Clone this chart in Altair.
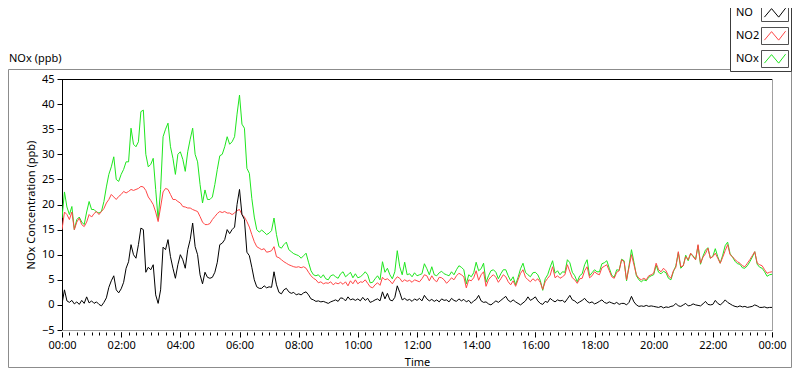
import altair as alt
import pandas as pd

# ---------------- data (5-minute readings, 00:00 .. 24:00) ----------------
series_names = ["NO", "NO2", "NOx"]
series_colors = ["#000000", "#ff4646", "#1ee61e"]
step_hours = 5 / 60

no_vals = [
    0.2, 3.0, 0.8, 0.5, 0.9, 0.2, 0.6, 0.1, 0.9, 0.3, 1.6, 0.4,
    0.8, 0.3, 0.6, 0.1, -0.2, 0.5, 1.4, 3.5, 4.8, 5.8, 3.0, 2.4,
    3.2, 4.5, 7.3, 8.6, 12.0, 10.0, 9.3, 12.0, 15.3, 15.0, 6.5, 7.5,
    7.0, 8.0, 2.0, 0.3, 3.0, 11.5, 11.0, 13.0, 9.6, 7.3, 5.3, 8.0,
    10.0, 9.0, 7.3, 11.0, 13.0, 16.3, 11.6, 10.0, 6.0, 4.2, 6.5, 5.5,
    5.3, 5.5, 6.5, 8.5, 12.0, 12.3, 13.0, 15.0, 14.2, 15.0, 15.5, 20.0,
    23.0, 18.0, 17.0, 10.5, 9.8, 7.5, 5.0, 3.6, 3.3, 3.3, 3.8, 3.4,
    3.6, 3.5, 6.6, 4.0, 2.5, 2.2, 3.0, 3.3, 2.6, 2.3, 2.5, 2.0,
    2.2, 2.0, 2.4, 2.6, 2.0, 1.2, 1.0, 0.7, 0.8, 0.6, 0.7, 0.5,
    0.3, 0.6, 0.8, 1.0, 0.7, 1.4, 1.3, 0.8, 1.6, 1.0, 1.2, 0.9,
    1.2, 0.8, 1.5, 0.9, 1.3, 0.5, 0.7, 1.0, 1.2, 0.8, 2.6, 1.2,
    2.3, 1.0, 0.8, 1.5, 3.8, 2.5, 1.0, 1.3, 0.9, 1.1, 0.7, 1.2,
    0.9, 1.3, 0.8, 1.9, 1.2, 0.8, 1.1, 0.7, 1.0, 0.6, 1.2, 0.9,
    1.0, 0.6, 1.3, 0.9, 0.7, 1.2, 0.8, 1.1, 0.6, 0.9, 0.3, 0.8,
    1.1, 1.9, 0.8, 0.5, 0.6, 0.2, 0.0, 0.4, 0.8, 0.5, 0.9, 1.3,
    1.7, 0.9, 0.6, 1.0, 0.6, 0.3, 0.0, 0.4, 0.8, 1.6, 0.9, 1.2,
    1.6, 0.8, 0.3, 0.1, 0.7, 0.5, 1.3, 0.9, 0.6, 1.0, 0.8, 0.9,
    0.5, 1.2, 1.9, 1.0, 0.8, 0.3, 0.6, 0.9, 1.3, 0.7, 0.4, 0.6,
    0.2, 0.4, 0.7, 1.0, 0.5, 0.3, 0.6, 0.4, 0.2, 0.5, 0.1, 0.3,
    0.3, 0.0, 0.5, 1.7, 0.6, 0.0, -0.3, -0.2, -0.3, -0.1, -0.3, -0.2,
    -0.3, -0.4, -0.5, -0.3, -0.6, -0.4, -0.5, -0.3, -0.2, 0.3, -0.2, -0.3,
    0.0, 0.3, -0.2, -0.1, 0.2, 0.0, -0.1, -0.2, 0.2, 0.7, 0.1, 0.0,
    0.1, 0.9, 0.3, 0.0, 0.4, 1.0, 0.5, 0.2, -0.1, -0.3, -0.4, -0.2,
    -0.4, -0.3, -0.5, -0.4, -0.3, 0.0, -0.2, -0.5, -0.5, -0.4, -0.6, -0.5,
    -0.5,
]

no2_vals = [
    15.0, 18.5, 18.0, 17.0, 18.5, 15.0, 16.5, 17.3, 16.0, 15.6, 16.5, 18.0,
    17.5, 18.2, 18.6, 18.0, 18.6, 19.2, 20.3, 21.0, 22.0, 21.5, 21.0, 21.6,
    22.0, 22.6, 22.3, 22.6, 23.0, 22.8, 23.0, 23.2, 23.6, 23.5, 22.8, 21.5,
    20.8, 20.0, 18.5, 16.6, 19.5, 22.5, 23.2, 23.0, 22.0, 21.0, 21.0, 20.6,
    20.3, 19.6, 19.5, 19.3, 19.3, 19.0, 18.8, 18.6, 17.6, 16.5, 16.0, 16.0,
    16.2, 17.0, 17.6, 18.2, 18.6, 18.4, 18.6, 18.3, 18.3, 18.0, 18.3, 18.8,
    19.0, 18.0, 17.5, 16.6, 15.5, 14.0, 12.6, 11.6, 11.3, 11.0, 11.2, 10.5,
    10.6, 10.8, 11.6, 9.6, 9.4, 9.0, 8.6, 8.3, 8.0, 7.8, 7.6, 7.5,
    7.6, 7.4, 7.6, 7.3, 6.5, 5.8, 5.3, 5.0, 4.4, 4.6, 4.2, 4.4,
    4.3, 4.6, 4.0, 4.4, 4.2, 4.5, 4.1, 4.6, 3.8, 4.8, 4.2, 5.0,
    4.2, 4.6, 4.5, 5.0, 4.3, 3.6, 3.4, 4.0, 4.4, 3.9, 5.5, 5.0,
    5.2, 4.8, 4.2, 5.0, 5.6, 5.3, 4.6, 5.0, 4.7, 4.9, 4.5, 5.0,
    4.8, 4.6, 5.2, 6.0, 5.8, 4.8, 5.8, 5.0, 4.6, 5.5, 5.4, 5.0,
    4.3, 4.8, 5.4, 5.0, 5.8, 6.3, 6.0, 5.6, 3.4, 5.0, 4.8, 5.4,
    6.8, 4.9, 6.0, 6.6, 3.7, 5.0, 5.6, 6.0, 5.5, 4.5, 5.2, 6.0,
    5.6, 4.6, 4.0, 4.8, 3.7, 5.0, 6.3, 7.0, 5.5, 5.0, 4.6, 5.2,
    4.8, 5.2, 4.5, 3.1, 4.6, 5.3, 5.9, 7.6, 5.4, 5.8, 5.3, 5.6,
    6.0, 8.0, 6.6, 5.4, 5.0, 4.3, 5.2, 5.3, 6.8, 7.6, 5.4, 5.8,
    6.6, 6.2, 6.0, 7.4, 7.7, 8.0, 6.8, 5.6, 5.3, 6.5, 6.8, 9.0,
    8.6, 5.0, 7.5, 10.0, 8.0, 6.0, 5.3, 5.0, 5.3, 5.0, 5.8, 6.0,
    6.3, 8.3, 7.0, 6.6, 7.3, 6.8, 5.8, 5.3, 6.8, 7.5, 10.6, 7.6,
    7.8, 9.6, 9.0, 10.3, 9.6, 9.0, 12.0, 8.3, 9.5, 10.2, 11.3, 9.3,
    9.6, 10.3, 9.3, 8.3, 9.5, 10.8, 12.0, 10.0, 9.6, 9.0, 8.6, 8.3,
    7.8, 7.6, 8.3, 9.0, 9.8, 10.6, 8.3, 8.0, 7.8, 7.0, 6.3, 6.5,
    6.6,
]

nox_vals = [
    17.3, 22.5, 19.5, 18.0, 19.6, 15.0, 17.0, 17.5, 16.5, 16.0, 18.5, 20.6,
    19.0, 19.0, 18.5, 18.3, 18.6, 20.6, 23.5, 26.0, 27.5, 29.5, 25.0, 24.6,
    26.0, 27.0, 28.5, 28.5, 35.2, 32.0, 31.5, 32.5, 38.5, 38.8, 30.0, 27.5,
    28.0, 29.2, 23.0, 17.0, 23.0, 33.5, 35.0, 36.2, 31.5, 29.2, 26.0, 30.0,
    30.5, 29.0, 26.6, 30.5, 33.0, 35.2, 30.0, 28.5, 24.0, 20.3, 22.9, 21.0,
    21.0, 21.5, 24.0, 27.0, 29.7, 30.0, 31.5, 33.5, 32.0, 32.5, 33.5, 38.0,
    41.8, 36.0, 35.2, 27.2, 26.2, 21.2, 17.5, 15.0, 14.5, 14.9, 14.5, 14.0,
    14.3, 14.8, 17.3, 14.0, 11.6, 11.3, 12.0, 12.5, 11.0, 10.6, 10.2, 10.0,
    9.8, 9.3, 9.8, 10.3, 8.5, 6.8, 6.0, 5.8, 6.0, 5.4, 6.0, 5.2,
    5.0, 5.8, 6.0, 5.6, 5.3, 6.2, 6.6, 5.6, 6.0, 6.5, 5.4, 6.2,
    5.4, 5.6, 6.0, 6.6, 6.0, 4.4, 4.5, 5.2, 5.8, 5.0, 8.6, 6.5,
    7.3, 6.0, 5.2, 6.6, 10.8, 7.6, 6.0, 8.5, 6.0, 6.2, 5.6, 6.4,
    5.8, 6.0, 6.2, 8.2, 7.2, 6.0, 7.6, 6.0, 5.8, 6.4, 6.7, 6.2,
    6.0, 5.8, 6.6, 6.0, 7.0, 7.8, 7.5, 7.0, 4.2, 6.0, 5.6, 6.4,
    8.5, 6.8, 7.2, 8.3, 4.5, 5.8, 6.8, 7.0, 6.5, 5.2, 6.2, 7.0,
    7.0, 5.8, 4.8, 5.6, 4.0, 5.5, 7.2, 8.3, 6.5, 6.0, 5.6, 6.4,
    6.5, 6.0, 4.9, 2.9, 5.2, 6.0, 7.5, 8.8, 6.3, 6.8, 6.0, 6.6,
    6.5, 9.0, 8.4, 6.5, 5.8, 4.6, 5.8, 6.2, 8.0, 9.0, 5.8, 6.4,
    7.0, 6.6, 6.6, 8.2, 8.4, 8.8, 7.3, 5.9, 5.5, 7.0, 6.9, 9.1,
    8.8, 4.8, 7.8, 11.0, 8.5, 5.8, 5.0, 4.6, 5.0, 4.8, 5.5, 5.8,
    6.0, 7.9, 6.5, 6.2, 6.7, 6.4, 5.3, 5.0, 6.6, 7.8, 10.4, 7.3,
    7.8, 9.9, 8.8, 10.2, 9.8, 9.0, 11.8, 8.1, 9.7, 10.9, 11.4, 9.3,
    9.7, 11.2, 9.6, 8.3, 9.9, 11.8, 12.5, 10.2, 9.5, 8.7, 8.2, 8.1,
    7.4, 7.3, 7.8, 8.6, 9.5, 10.6, 8.1, 7.5, 7.3, 6.6, 5.7, 6.0,
    6.1,
]

major_hours = list(range(0, 25, 2))
minor_hours = [q / 4 for q in range(0, 97)]
y_ticks = list(range(-5, 46, 5))

chart_title = "NOx (ppb)"
y_title = "NOx Concentration (ppb)"
x_title = "Time"

rows = []
for name, vals in zip(series_names, [no_vals, no2_vals, nox_vals]):
    for i, v in enumerate(vals):
        rows.append({"series": name, "hour": i * step_hours, "ppb": v})
df = pd.DataFrame(rows)

# ---------------- layout ----------------
W, H = 710, 251
FONT = "Noto Sans"
FS = 11

label_expr = "(datum.value % 24 < 10 ? '0' : '') + (datum.value % 24) + ':00'"

xscale = alt.Scale(domain=[0, 24], nice=False, zero=False)
yscale = alt.Scale(domain=[-5, 45], nice=False, zero=False)
cscale = alt.Scale(domain=series_names, range=series_colors)

major_axis = alt.Axis(
    orient="bottom", values=major_hours, labelExpr=label_expr, tickSize=5,
    tickColor="#000000", domain=False, offset=2, grid=False, labelFlush=False,
    labelOverlap=False, labelFont=FONT, labelFontSize=FS, labelColor="#000000",
    labelPadding=2, title=x_title, titleFont=FONT, titleFontSize=FS,
    titleFontWeight="normal", titleColor="#000000", titleBaseline="alphabetic",
    titleY=33,
)
minor_axis = alt.Axis(
    orient="bottom", values=minor_hours, tickSize=3, tickColor="#000000",
    domain=False, offset=2, grid=False, labels=False, title=None,
)
y_axis = alt.Axis(
    values=y_ticks, tickSize=5, tickColor="#000000", domain=True,
    domainColor="#000000", grid=False, labelFont=FONT, labelFontSize=FS,
    labelColor="#000000", labelPadding=3, title=y_title, titleFont=FONT,
    titleFontSize=FS, titleFontWeight="normal", titleColor="#000000",
    titleX=-28, titleY=125.5, titleAngle=270, titleAlign="center",
    titleBaseline="alphabetic",
)


def line_layer(name, xaxis):
    xkw = dict(scale=xscale)
    if xaxis is None:
        xkw["axis"] = None
    else:
        xkw["axis"] = xaxis
    return (
        alt.Chart(df)
        .transform_filter(alt.datum.series == name)
        .mark_line(strokeWidth=1, clip=True)
        .encode(
            x=alt.X("hour:Q", **xkw),
            y=alt.Y("ppb:Q", scale=yscale, axis=y_axis),
            color=alt.Color("series:N", scale=cscale, legend=None),
        )
    )


one = pd.DataFrame({"k": [0]})

# outer grey frame
frame = alt.Chart(one).mark_rect(fillOpacity=0, stroke="#8c8c8c", strokeWidth=1).encode(
    x=alt.value(-53.5), x2=alt.value(729.5), y=alt.value(-9.5), y2=alt.value(288.5)
)
# plot area borders
top_line = alt.Chart(one).mark_rule(color="#000000", strokeWidth=1).encode(
    x=alt.value(0), x2=alt.value(W), y=alt.value(0.5)
)
right_line = alt.Chart(one).mark_rule(color="#a0a0a0", strokeWidth=1).encode(
    x=alt.value(W + 0.5), y=alt.value(0), y2=alt.value(H)
)
bottom_line = alt.Chart(one).mark_rule(color="#a0a0a0", strokeWidth=1).encode(
    x=alt.value(0), x2=alt.value(W + 1), y=alt.value(H + 0.5)
)

title_txt = alt.Chart(pd.DataFrame({"t": [chart_title]})).mark_text(
    align="left", baseline="alphabetic", font=FONT, fontSize=FS, color="#000000"
).encode(x=alt.value(-53), y=alt.value(-17), text="t:N")

# legend
legend_layers = [
    alt.Chart(one).mark_rect(fill="#ffffff", stroke="#3c3c3c", strokeWidth=1).encode(
        x=alt.value(668.5), x2=alt.value(729.5), y=alt.value(-90), y2=alt.value(-7.5)
    )
]
zigzag = "M-0.92,0.36L-0.3,-0.38L0.32,0.36L0.92,-0.42"
for i, (name, col) in enumerate(zip(series_names, series_colors)):
    top = -75 + 23 * i
    cy = top + 8.5
    item = pd.DataFrame({"series": [name]})
    legend_layers.append(
        alt.Chart(item).mark_rect(fill="#ffffff", stroke="#505050", strokeWidth=1).encode(
            x=alt.value(699.5), x2=alt.value(726.5), y=alt.value(top + 0.5), y2=alt.value(top + 17.5)
        )
    )
    legend_layers.append(
        alt.Chart(item).mark_point(
            shape=zigzag, size=529, filled=False, strokeWidth=1, color=col, opacity=1
        ).encode(x=alt.value(713), y=alt.value(cy + 0.5))
    )
    legend_layers.append(
        alt.Chart(item).mark_text(
            align="left", baseline="middle", font=FONT, fontSize=FS, color="#000000"
        ).encode(x=alt.value(674), y=alt.value(cy + 0.5), text="series:N")
    )

chart = (
    alt.layer(
        frame,
        line_layer("NOx", major_axis),
        line_layer("NO2", minor_axis),
        line_layer("NO", None),
        top_line,
        right_line,
        bottom_line,
        title_txt,
        *legend_layers,
    )
    .resolve_axis(x="independent")
    .properties(
        width=W,
        height=H,
        autosize=alt.AutoSizeParams(type="none"),
        padding={"left": 54, "top": 71, "right": 20, "bottom": 39},
        background="#ffffff",
    )
    .configure_view(strokeWidth=0)
)

chart.save("out.html", embed_options={"renderer": "svg", "actions": False})
